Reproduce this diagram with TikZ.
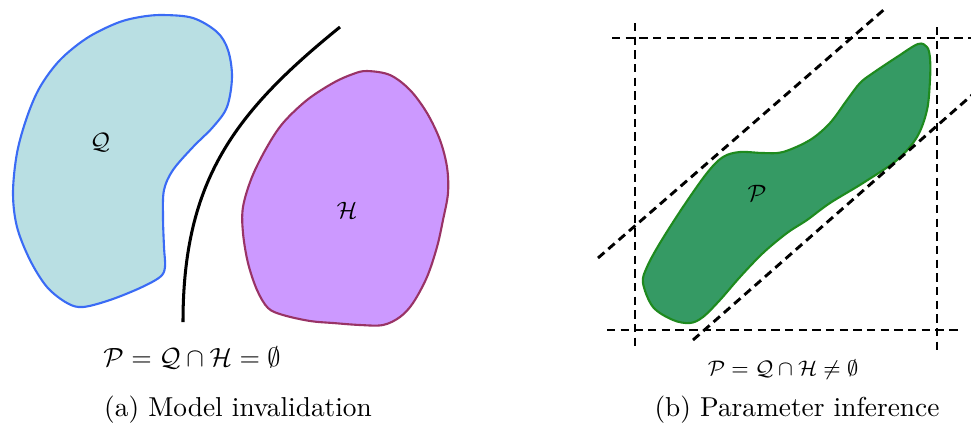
\documentclass[tikz,border=0pt]{standalone}
\usepackage{amsmath,amssymb,amsfonts}
\usepackage{xcolor}
\usepackage{tikz}
\usetikzlibrary{positioning,calc}
\definecolor{qfill}{HTML}{B9DFE3}
\definecolor{qline}{HTML}{3A6BF5}
\definecolor{hfill}{HTML}{CC99FF}
\definecolor{hline}{HTML}{993366}
\definecolor{pfill}{HTML}{359A64}
\definecolor{pline}{HTML}{1E8A1E}

\begin{document}
\begin{tikzpicture}[x=0.38pt, y=-0.38pt,
  blob/.style={line width=0.8pt, smooth cycle, tension=0.55},
  bound/.style={line width=1.1pt, dash pattern=on 3.2pt off 2pt},
  lbl/.style={inner sep=0pt, font=\small},
  subcap/.style={inner sep=0pt, font=\fontsize{10.4}{12}\selectfont}]
\useasboundingbox (0,0) rectangle (971,426);
% (a) model invalidation
\draw[blob, fill=qfill, draw=qline] plot coordinates {(163,15) (193,18) (217,32) (228,50) (232,77) (227,107) (213,127) (193,147) (173,170) (164,190) (163,217) (164,247) (165,267) (160,277) (140,288) (110,300) (83,307) (67,303) (47,287) (30,260) (17,227) (13,193) (17,153) (27,117) (40,87) (60,60) (87,38) (117,23) (140,17)};
\draw[blob, fill=hfill, draw=hline] plot coordinates {(367,71) (390,75) (410,90) (427,113) (440,140) (447,167) (448,193) (443,220) (437,247) (427,277) (413,303) (400,317) (383,325) (360,325) (333,323) (310,321) (283,315) (268,308) (257,290) (248,263) (243,233) (243,207) (252,177) (267,147) (283,123) (307,100) (333,83) (353,74)};
\coordinate (sepa) at (340,27);
\coordinate (sepb) at (183,322);
\draw[line width=1.15pt] (sepa) .. controls (235,112) and (183,180) .. (sepb);
\node[lbl] (Q) at (100,143) {$\mathcal{Q}$};
\node[lbl] (H) at (347,210) {$\mathcal{H}$};
\node[inner sep=0pt, font=\fontsize{9.6}{11}\selectfont] (emptyeq) at (192,358) {$\mathcal{P}=\mathcal{Q}\cap\mathcal{H}=\emptyset$};
\node[subcap] (capa) at (238,410) {(a) Model invalidation};
% (b) parameter inference
\draw[blob, fill=pfill, draw=pline] plot coordinates {(918,44) (927,47) (930,58) (930,80) (927,110) (917,137) (897,160) (863,183) (830,203) (807,220) (787,233) (763,253) (740,277) (720,300) (703,317) (690,323) (673,320) (653,307) (643,283) (647,267) (660,243) (683,207) (707,173) (723,157) (740,152) (763,153) (783,152) (810,140) (830,123) (847,100) (860,83) (873,73) (897,57)};
\coordinate (tl) at (612,38);  \coordinate (tr) at (971,38);
\coordinate (bl) at (607,330); \coordinate (br) at (960,330);
\coordinate (lt) at (635,23);  \coordinate (lb) at (635,348);
\coordinate (rt) at (937,27);  \coordinate (rb) at (937,352);
\coordinate (ua) at (598,258); \coordinate (ub) at (887,7);
\coordinate (da) at (693,340); \coordinate (db) at (972,95);
\draw[bound] (tl) -- (tr);
\draw[bound] (bl) -- (br);
\draw[bound] (lt) -- (lb);
\draw[bound] (rt) -- (rb);
\draw[bound] (ua) -- (ub);
\draw[bound] (da) -- (db);
\node[lbl] (P) at (757,193) {$\mathcal{P}$};
\node[inner sep=0pt, font=\fontsize{8}{10}\selectfont] (feaseq) at (783,370) {$\mathcal{P}=\mathcal{Q}\cap\mathcal{H}\neq\emptyset$};
\node[subcap] (capb) at (797,410) {(b) Parameter inference};
\end{tikzpicture}
\end{document}
